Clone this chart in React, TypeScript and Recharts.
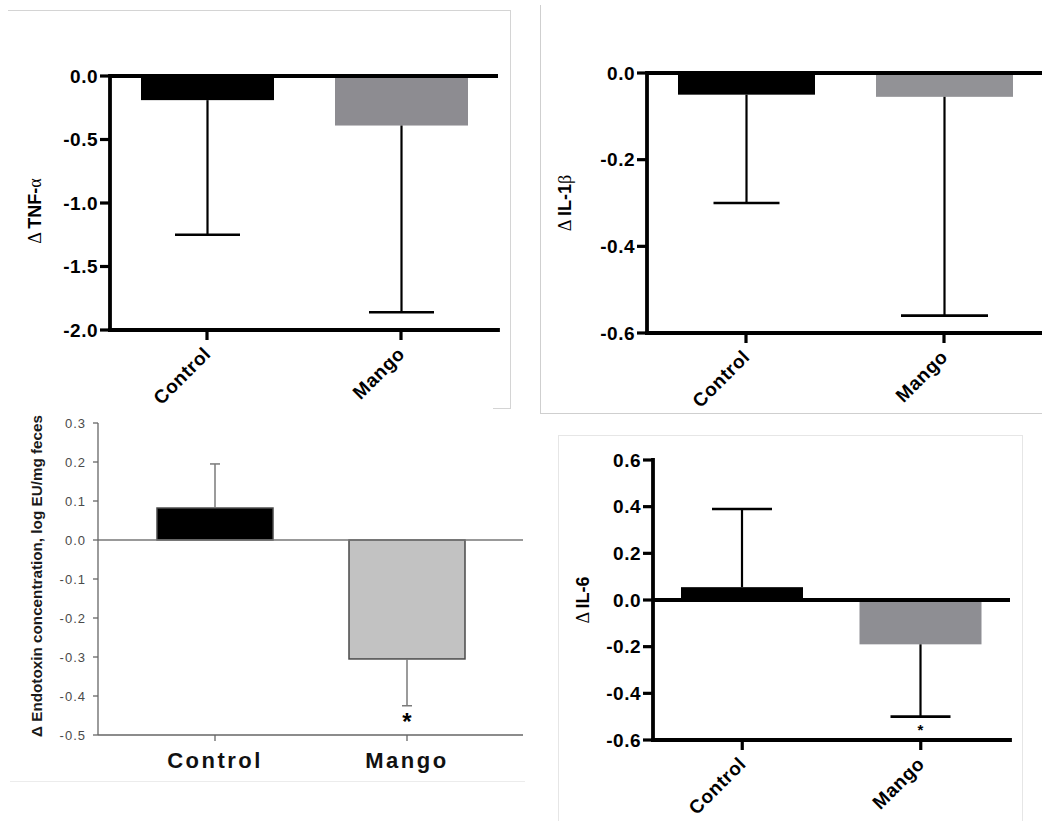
import React from 'react';
import { BarChart, Bar, XAxis, YAxis, ReferenceLine, Label } from 'recharts';

const FONT = "'Liberation Sans', Arial, Helvetica, sans-serif";
const SERIF = "'Liberation Serif', 'Times New Roman', serif";

// groups on the x axis
const groups = ['Control', 'Mango'];

// change from baseline: mean and SD per group
const tnfMean = [-0.19, -0.39];
const tnfSd = [1.06, 1.47];
const il1bMean = [-0.05, -0.055];
const il1bSd = [0.25, 0.505];
const endoMean = [0.082, -0.305];
const endoSd = [0.113, 0.12];
const il6Mean = [0.055, -0.19];
const il6Sd = [0.335, 0.31];

// significance marks (*)
const endoSig = [false, true];
const il6Sig = [false, true];

// y tick values
const tnfTicks = [0, -0.5, -1.0, -1.5, -2.0];
const il1bTicks = [0, -0.2, -0.4, -0.6];
const endoTicks = [0.3, 0.2, 0.1, 0, -0.1, -0.2, -0.3, -0.4, -0.5];
const il6Ticks = [0.6, 0.4, 0.2, 0, -0.2, -0.4, -0.6];

const toRows = (mean: number[], sd: number[], sig?: boolean[]) =>
  groups.map((g, i) => ({ group: g, mean: mean[i], sd: sd[i], sig: sig ? sig[i] : false }));

type ShapeStyle = {
  fills: string[];
  stroke?: string;
  strokeWidth?: number;
  errColor: string;
  errWidth: number;
  capWidth: number;
  capHalf: number[];
  starSize: number;
  starGap: number;
};

// bar + one-sided error bar (away from zero), scaled from the bar geometry
const makeShape = (st: ShapeStyle) => (props: any) => {
  const { x, y, width, height, payload } = props;
  const i = groups.indexOf(payload.group);
  const top = Math.min(y, y + height);
  const bottom = Math.max(y, y + height);
  const neg = payload.mean < 0;
  const valY = neg ? bottom : top;
  const pxPerUnit = (bottom - top) / Math.abs(payload.mean);
  const endY = valY + (neg ? 1 : -1) * payload.sd * pxPerUnit;
  const cx = x + width / 2;
  const half = st.capHalf[i];
  return (
    <g>
      <rect
        x={x}
        y={top}
        width={width}
        height={bottom - top}
        fill={st.fills[i]}
        stroke={st.stroke || 'none'}
        strokeWidth={st.strokeWidth || 0}
      />
      <line x1={cx} x2={cx} y1={valY} y2={endY} stroke={st.errColor} strokeWidth={st.errWidth} />
      <line x1={cx - half} x2={cx + half} y1={endY} y2={endY} stroke={st.errColor} strokeWidth={st.capWidth} />
      {payload.sig && (
        <text
          x={cx}
          y={endY + (neg ? st.starGap : -st.starGap)}
          textAnchor="middle"
          fontFamily={FONT}
          fontWeight="bold"
          fontSize={st.starSize}
          fill="#000"
        >
          *
        </text>
      )}
    </g>
  );
};

function RotatedTick(props: any) {
  const { x, y, payload } = props;
  const ax = x + 5;
  const ay = y + 13;
  return (
    <text
      x={ax}
      y={ay}
      transform={`rotate(-45 ${ax} ${ay})`}
      textAnchor="end"
      fontFamily={FONT}
      fontSize={19}
      fontWeight="bold"
      letterSpacing={0.6}
      fill="#000"
    >
      {payload.value}
    </text>
  );
}

function PlainTick(props: any) {
  const { x, y, payload } = props;
  return (
    <text x={x} y={y + 25} textAnchor="middle" fontFamily={FONT} fontSize={22} fontWeight="bold" letterSpacing={2.5} fill="#111">
      {payload.value}
    </text>
  );
}

function PrismTitle({ viewBox, dx, dy, name, greek }: any) {
  const cx = viewBox.x + dx;
  const cy = viewBox.y + viewBox.height / 2 + dy;
  return (
    <text x={cx} y={cy} transform={`rotate(-90 ${cx} ${cy})`} textAnchor="middle" fontSize={18} fill="#000">
      <tspan fontFamily={SERIF}>Δ </tspan>
      <tspan fontFamily={FONT} fontWeight="bold">{name}</tspan>
      {greek && <tspan fontFamily={SERIF}>{greek}</tspan>}
    </text>
  );
}

const black = { stroke: '#000', strokeWidth: 3.8 };

function PrismPanel(p: any) {
  return (
    <div style={{ position: 'absolute', left: p.left, top: p.top }}>
      <BarChart width={p.width} height={p.height} data={p.rows} margin={p.margin}>
        <XAxis
          dataKey="group"
          type="category"
          height={p.xHeight}
          interval={0}
          tickSize={10}
          axisLine={{ ...black, strokeLinecap: 'square' }}
          tickLine={{ stroke: '#000', strokeWidth: 3.2 }}
          tick={(t: any) => <RotatedTick {...t} />}
        />
        <YAxis
          type="number"
          domain={p.domain}
          ticks={p.ticks}
          interval={0}
          allowDataOverflow
          width={p.yWidth}
          tickSize={10}
          tickMargin={2}
          axisLine={{ ...black, strokeLinecap: 'square' }}
          tickLine={{ stroke: '#000', strokeWidth: 3.2 }}
          tick={{ fontFamily: FONT, fontSize: 19, fontWeight: 'bold', fill: '#000', letterSpacing: 0.5 }}
          tickFormatter={(v: number) => v.toFixed(1)}
        >
          <Label
            content={(lp: any) => (
              <PrismTitle viewBox={lp.viewBox} dx={p.titleDx} dy={p.titleDy} name={p.titleName} greek={p.titleGreek} />
            )}
          />
        </YAxis>
        <Bar
          dataKey="mean"
          barSize={p.barSize}
          isAnimationActive={false}
          shape={makeShape({
            fills: p.fills,
            errColor: '#000',
            errWidth: 2.2,
            capWidth: 2.6,
            capHalf: p.capHalf,
            starSize: 15,
            starGap: 18,
          })}
        />
        <ReferenceLine y={0} stroke="#000" strokeWidth={3.8} />
      </BarChart>
    </div>
  );
}

function EndotoxinPanel() {
  const rows = toRows(endoMean, endoSd, endoSig);
  return (
    <div style={{ position: 'absolute', left: 0, top: 400 }}>
      <BarChart width={540} height={381} data={rows} margin={{ top: 23, right: 17, bottom: 0, left: 0 }}>
        <XAxis
          dataKey="group"
          type="category"
          height={46}
          interval={0}
          tickSize={6}
          padding={{ left: 21, right: 20 }}
          axisLine={{ stroke: '#666', strokeWidth: 1.3 }}
          tickLine={{ stroke: '#666', strokeWidth: 1.3 }}
          tick={(t: any) => <PlainTick {...t} />}
        />
        <YAxis
          type="number"
          domain={[-0.5, 0.3]}
          ticks={endoTicks}
          interval={0}
          allowDataOverflow
          width={98}
          tickSize={5}
          tickMargin={7}
          axisLine={{ stroke: '#666', strokeWidth: 1.3 }}
          tickLine={{ stroke: '#666', strokeWidth: 1.3 }}
          tick={{ fontFamily: FONT, fontSize: 13, fill: '#4a4a4a', letterSpacing: 1 }}
          tickFormatter={(v: number) => v.toFixed(1)}
        >
          <Label
            content={(lp: any) => {
              const cx = lp.viewBox.x + 42;
              const cy = lp.viewBox.y + lp.viewBox.height / 2 - 3;
              return (
                <text
                  x={cx}
                  y={cy}
                  transform={`rotate(-90 ${cx} ${cy})`}
                  textAnchor="middle"
                  fontFamily={FONT}
                  fontSize={15}
                  fontWeight="bold"
                  fill="#1a1a1a"
                  textLength={322}
                  lengthAdjust="spacingAndGlyphs"
                >
                  Δ Endotoxin concentration, log EU/mg feces
                </text>
              );
            }}
          />
        </YAxis>
        <ReferenceLine y={0} stroke="#777" strokeWidth={1.3} />
        <Bar
          dataKey="mean"
          barSize={116}
          isAnimationActive={false}
          shape={makeShape({
            fills: ['#000000', '#c2c2c2'],
            stroke: '#4a4a4a',
            strokeWidth: 1.5,
            errColor: '#7a7a7a',
            errWidth: 1.5,
            capWidth: 1.5,
            capHalf: [5, 5],
            starSize: 24,
            starGap: 24,
          })}
        />
      </BarChart>
    </div>
  );
}

const edge = (left: number, top: number, width: number, height: number, color: string) => (
  <div style={{ position: 'absolute', left, top, width, height, background: color }} />
);

export default function App() {
  return (
    <div
      style={{
        position: 'absolute',
        left: 0,
        top: 0,
        width: 1042,
        height: 821,
        overflow: 'hidden',
        background: '#fff',
      }}
    >
      {/* panel frames */}
      {edge(8, 10, 502, 1, '#d4d4d4')}
      {edge(510, 10, 1, 398, '#d4d4d4')}
      {edge(493, 408, 18, 1, '#d4d4d4')}
      {edge(540, 5, 1, 408, '#cfcfcf')}
      {edge(540, 413, 502, 1, '#cfcfcf')}
      {edge(10, 781, 515, 1, '#ececec')}
      {edge(558, 435, 464, 1, '#e6e6e6')}
      {edge(558, 435, 1, 386, '#e6e6e6')}
      {edge(1022, 435, 1, 386, '#e6e6e6')}

      <PrismPanel
        left={0}
        top={0}
        width={510}
        height={408}
        margin={{ top: 76, right: 12, bottom: 0, left: 0 }}
        xHeight={78}
        yWidth={110}
        rows={toRows(tnfMean, tnfSd)}
        domain={[-2, 0]}
        ticks={tnfTicks}
        barSize={133}
        fills={['#000000', '#8d8c91']}
        capHalf={[32.5, 32.5]}
        titleDx={41}
        titleDy={8}
        titleName="TNF-"
        titleGreek="α"
      />
      <PrismPanel
        left={520}
        top={0}
        width={523}
        height={413}
        margin={{ top: 73, right: 0, bottom: 0, left: 0 }}
        xHeight={80}
        yWidth={127}
        rows={toRows(il1bMean, il1bSd)}
        domain={[-0.6, 0]}
        ticks={il1bTicks}
        barSize={137}
        fills={['#000000', '#929296']}
        capHalf={[33, 43.5]}
        titleDx={51}
        titleDy={0}
        titleName="IL-1"
        titleGreek="β"
      />
      <EndotoxinPanel />
      <PrismPanel
        left={540}
        top={420}
        width={490}
        height={401}
        margin={{ top: 40, right: 20, bottom: 0, left: 0 }}
        xHeight={81}
        yWidth={113}
        rows={toRows(il6Mean, il6Sd, il6Sig)}
        domain={[-0.6, 0.6]}
        ticks={il6Ticks}
        barSize={122}
        fills={['#000000', '#8e8e93']}
        capHalf={[30, 30]}
        titleDx={49}
        titleDy={0}
        titleName="IL-6"
        titleGreek=""
      />
    </div>
  );
}
